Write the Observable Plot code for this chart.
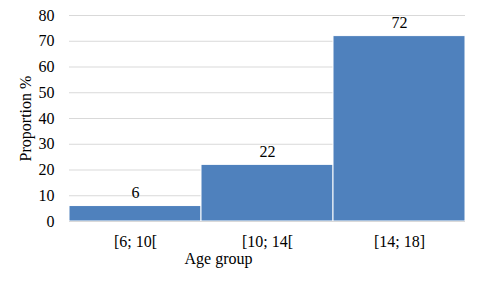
<!DOCTYPE html>
<html>
<head>
<meta charset="utf-8">
<script src="https://cdn.jsdelivr.net/npm/d3@7"></script>
<script src="https://cdn.jsdelivr.net/npm/@observablehq/plot@0.6"></script>
<style>
  html, body { margin: 0; padding: 0; background: #fff; }
  #chart svg { display: block; }
</style>
</head>
<body>
<div id="chart"></div>
<script>
// Share of respondents by age group
const ageGroups = ["[6; 10[", "[10; 14[", "[14; 18]"];
const proportions = [6, 22, 72];
const yTicks = [0, 10, 20, 30, 40, 50, 60, 70, 80];

const rows = ageGroups.map((g, i) => ({group: g, value: proportions[i]}));
const serif = "'Liberation Serif', 'Times New Roman', serif";

const chart = Plot.plot({
  width: 481,
  height: 289,
  marginLeft: 69,
  marginRight: 16,
  marginTop: 15,
  marginBottom: 68,
  style: {fontFamily: serif, fontSize: "16px", color: "#000", background: "#fff"},
  x: {domain: ageGroups, padding: 0},
  y: {domain: [0, 80]},
  marks: [
    Plot.gridY(yTicks, {stroke: "#d9d9d9", strokeOpacity: 1, strokeWidth: 1}),
    Plot.barY(rows, {x: "group", y: "value", fill: "#4f81bd", stroke: "#fff", strokeWidth: 1}),
    Plot.ruleY([0], {stroke: "#d9d9d9"}),
    Plot.text(rows, {x: "group", y: "value", text: d => String(d.value), dy: -13, fontSize: 16, fill: "#000"}),
    Plot.axisY(yTicks, {tickSize: 0, tickPadding: 15, label: "Proportion %", labelArrow: false, labelAnchor: "center", labelOffset: 50, fontSize: 16}),
    Plot.axisX({tickSize: 0, tickPadding: 14, label: null, fontSize: 16}),
    Plot.text(["Age group"], {frameAnchor: "bottom", dx: -49, dy: 42, fontSize: 16, fill: "#000"})
  ]
});

document.getElementById("chart").append(chart);
</script>
</body>
</html>
